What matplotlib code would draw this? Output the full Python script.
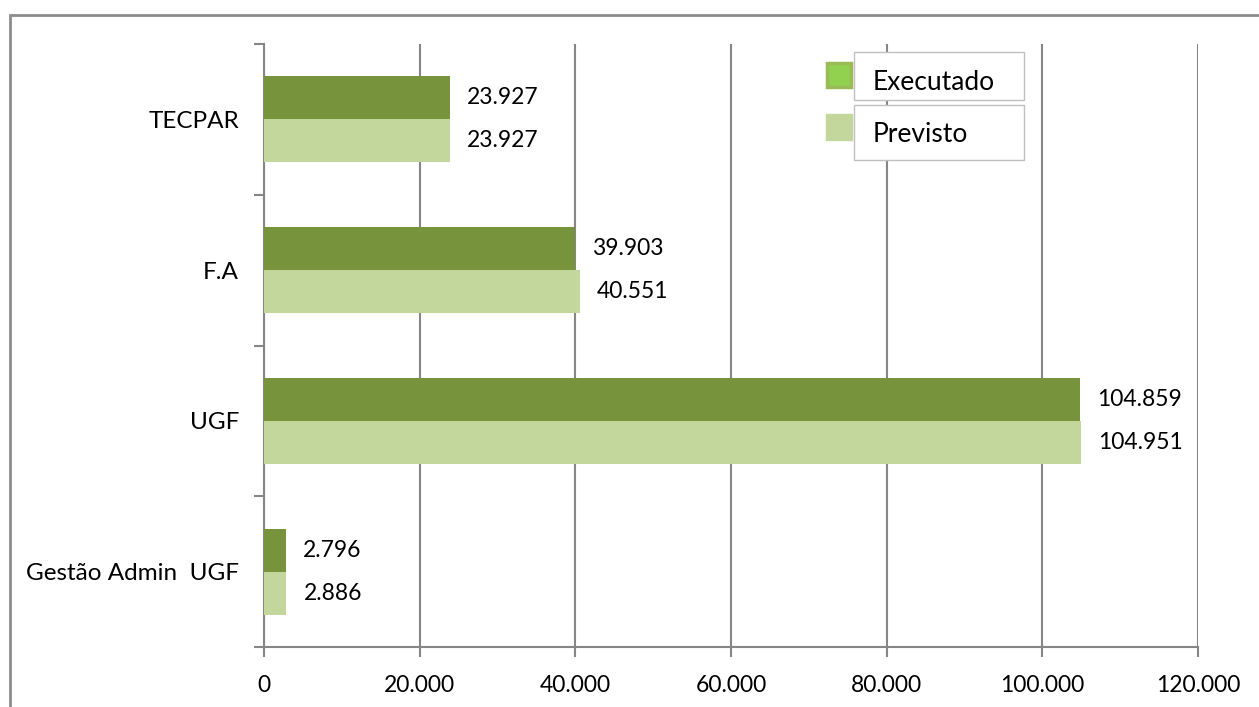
import matplotlib.pyplot as plt
from matplotlib.patches import Rectangle
import numpy as np

plt.rcParams['font.family'] = ['Lato', 'DejaVu Sans']

categories = ['Gestão Admin  UGF', 'UGF', 'F.A', 'TECPAR']
executado = [2796, 104859, 39903, 23927]
previsto = [2886, 104951, 40551, 23927]
xticks = [0, 20000, 40000, 60000, 80000, 100000, 120000]

c_exec = '#77933C'
c_prev = '#C3D69B'
gray = '#868686'
fs = 16.5

W, H = 1259, 707
fig = plt.figure(figsize=(W / 100, H / 100), dpi=100)
ax = fig.add_axes([264 / W, 1 - 647 / H, (1198 - 264) / W, (647 - 44) / H])

def fmt(v):
    return f'{v:,.0f}'.replace(',', '.')

y = np.arange(len(categories))
h = 0.285
ax.barh(y + h / 2, executado, height=h, color=c_exec, zorder=3)
ax.barh(y - h / 2, previsto, height=h, color=c_prev, zorder=3)

for yi, v in zip(y + h / 2, executado):
    ax.text(v + 2200, yi, fmt(v), va='center', ha='left', fontsize=fs)
for yi, v in zip(y - h / 2, previsto):
    ax.text(v + 2200, yi, fmt(v), va='center', ha='left', fontsize=fs)

ax.set_xlim(0, 120000)
ax.set_ylim(-0.5, len(categories) - 0.5)
ax.set_xticks(xticks)
ax.set_xticklabels([fmt(t) for t in xticks], fontsize=fs)
ax.set_yticks(y)
ax.set_yticklabels(categories, fontsize=17.5)
ax.set_yticks(np.arange(len(categories) + 1) - 0.5, minor=True)
ax.tick_params(axis='y', which='major', length=0, pad=18)
ax.tick_params(axis='y', which='minor', length=7, width=1.5, color=gray, direction='out')
ax.tick_params(axis='x', length=7, width=1.5, color=gray, direction='out', pad=13)
ax.grid(axis='x', color=gray, linewidth=1.5, zorder=0)

for s in ['top', 'right']:
    ax.spines[s].set_visible(False)
for s in ['left', 'bottom']:
    ax.spines[s].set_color(gray)
    ax.spines[s].set_linewidth(1.5)

# outer chart border
fig.patches.append(Rectangle((10 / W, -0.1), 1.2, 1.1 - 15 / H, transform=fig.transFigure,
                             fill=False, edgecolor='#8c8c8c', linewidth=2))

# legend
def px(x0, y0, w, hh, **kw):
    fig.patches.append(Rectangle((x0 / W, 1 - (y0 + hh) / H), w / W, hh / H,
                                 transform=fig.transFigure, **kw))

px(854, 52, 170, 48, facecolor='white', edgecolor='#c0c0c0', linewidth=1, zorder=1)
px(854, 105, 170, 55, facecolor='white', edgecolor='#c0c0c0', linewidth=1, zorder=1)
px(827, 63, 24, 24, facecolor='#92D050', edgecolor='#9BBB59', linewidth=2.5, zorder=2)
px(826, 114, 26, 26, facecolor=c_prev, edgecolor=c_prev, linewidth=1, zorder=2)
fig.text(873 / W, 1 - 82 / H, 'Executado', fontsize=19, va='center', ha='left')
fig.text(873 / W, 1 - 134 / H, 'Previsto', fontsize=19, va='center', ha='left')

fig.savefig('out.png', dpi=100)
